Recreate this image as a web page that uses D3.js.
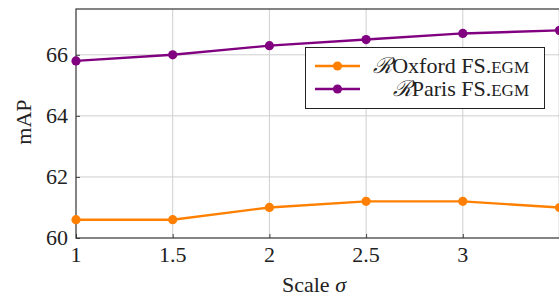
<!DOCTYPE html>
<html>
<head>
<meta charset="utf-8">
<script src="https://cdn.jsdelivr.net/npm/d3@7"></script>
<style>
  body { margin: 0; background: #fff; }
  svg { display: block; }
</style>
</head>
<body>
<svg id="chart" width="559" height="298"></svg>
<script>
var scales = [1, 1.5, 2, 2.5, 3, 3.5];
var oxford = [60.6, 60.6, 61.0, 61.2, 61.2, 61.0];
var paris = [65.8, 66.0, 66.3, 66.5, 66.7, 66.8];
var xTicks = [1, 1.5, 2, 2.5, 3];
var yTicks = [60, 62, 64, 66];
var seriesNames = ['Oxford FS.', 'Paris FS.'];
var seriesColors = ['#ff8000', '#800080'];

var svg = d3.select('#chart')
    .attr('font-family', "'Liberation Serif', 'Times New Roman', 'DejaVu Serif', serif");
var plotL = 76, plotR = 559.5, plotT = 9, plotB = 238;
var fontSize = 22;
var textColor = '#222';

var x = d3.scaleLinear().domain([1, 3.5]).range([plotL, plotR]);
var y = d3.scaleLinear().domain([60, 67.5]).range([plotB, plotT]);

// grid
var grid = svg.append('g').attr('stroke', '#cfcfcf').attr('stroke-width', 1);
xTicks.slice(1).forEach(function(t) {
    grid.append('line').attr('x1', x(t)).attr('x2', x(t)).attr('y1', plotT).attr('y2', plotB);
});
yTicks.slice(1).forEach(function(t) {
    grid.append('line').attr('x1', plotL).attr('x2', plotR).attr('y1', y(t)).attr('y2', y(t));
});

// axes, ticks inward; labels drawn below
var xAxis = d3.axisBottom(x).tickValues(xTicks).tickSize(-4).tickFormat('');
var yAxis = d3.axisLeft(y).tickValues(yTicks).tickSize(-4).tickFormat('');
svg.append('g').attr('transform', 'translate(0,' + plotB + ')').call(xAxis)
    .call(function(g) { g.select('.domain').remove(); g.selectAll('line').attr('stroke', '#444'); });
svg.append('g').attr('transform', 'translate(' + plotL + ',0)').call(yAxis)
    .call(function(g) { g.select('.domain').remove(); g.selectAll('line').attr('stroke', '#444'); });

svg.append('rect')
    .attr('x', plotL).attr('y', plotT)
    .attr('width', plotR - plotL).attr('height', plotB - plotT)
    .attr('fill', 'none').attr('stroke', '#333').attr('stroke-width', 1.2);

svg.selectAll('.xlab').data(xTicks).enter().append('text')
    .attr('class', 'xlab')
    .attr('x', function(d) { return x(d); })
    .attr('y', plotB + 24)
    .attr('text-anchor', 'middle')
    .attr('font-size', fontSize)
    .attr('fill', textColor)
    .text(function(d) { return d; });

svg.selectAll('.ylab').data(yTicks).enter().append('text')
    .attr('class', 'ylab')
    .attr('x', plotL - 8)
    .attr('y', function(d) { return y(d) + 7; })
    .attr('text-anchor', 'end')
    .attr('font-size', fontSize)
    .attr('fill', textColor)
    .text(function(d) { return d; });

var xt = svg.append('text')
    .attr('x', 314)
    .attr('y', 292)
    .attr('text-anchor', 'middle')
    .attr('font-size', fontSize)
    .attr('fill', textColor);
xt.append('tspan').text('Scale ');
xt.append('tspan').attr('font-style', 'italic').text('σ');

svg.append('text')
    .attr('transform', 'translate(31,122) rotate(-90)')
    .attr('text-anchor', 'middle')
    .attr('font-size', fontSize)
    .attr('fill', textColor)
    .text('mAP');

// series
var line = d3.line()
    .x(function(d) { return x(d[0]); })
    .y(function(d) { return y(d[1]); });

[oxford, paris].forEach(function(vals, i) {
    var pts = scales.map(function(s, j) { return [s, vals[j]]; });
    var g = svg.append('g');
    g.append('path')
        .attr('d', line(pts))
        .attr('fill', 'none')
        .attr('stroke', seriesColors[i])
        .attr('stroke-width', 2.4);
    g.selectAll('circle').data(pts).enter().append('circle')
        .attr('cx', function(d) { return x(d[0]); })
        .attr('cy', function(d) { return y(d[1]); })
        .attr('r', 4.6)
        .attr('fill', seriesColors[i]);
});

// legend
var lg = svg.append('g');
lg.append('rect')
    .attr('x', 305.5).attr('y', 47.5)
    .attr('width', 239).attr('height', 61)
    .attr('fill', '#fff').attr('stroke', '#222').attr('stroke-width', 1);
seriesNames.forEach(function(name, i) {
    var cy = 66 + i * 23;
    lg.append('line')
        .attr('x1', 315).attr('x2', 360).attr('y1', cy).attr('y2', cy)
        .attr('stroke', seriesColors[i]).attr('stroke-width', 2.4);
    lg.append('circle').attr('cx', 337.5).attr('cy', cy).attr('r', 4.6).attr('fill', seriesColors[i]);
    var t = lg.append('text')
        .attr('x', 529).attr('y', cy + 7)
        .attr('text-anchor', 'end')
        .attr('font-size', fontSize)
        .attr('fill', textColor);
    t.append('tspan').attr('font-style', 'italic').text('ℛ');
    t.append('tspan').text(name);
    t.append('tspan').attr('font-size', 17).text('EGM');
});
</script>
</body>
</html>
